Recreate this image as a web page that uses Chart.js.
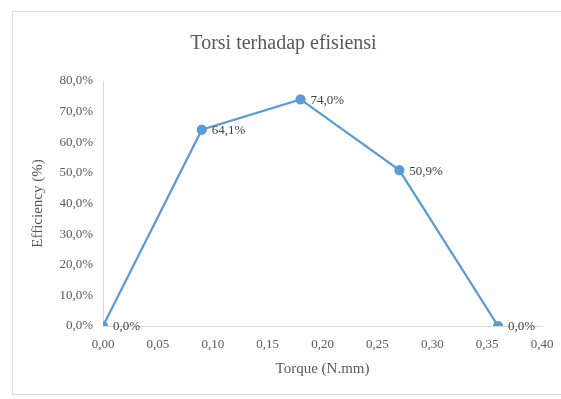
<!DOCTYPE html>
<html>
<head>
<meta charset="utf-8">
<script src="https://cdn.jsdelivr.net/npm/chart.js@4/dist/chart.umd.min.js"></script>
<style>
    body { margin: 0; background: #fff; overflow: hidden; }
    #divChart { position: absolute; left: 12px; top: 11px; width: 560px; height: 384px; border: 1px solid #d9d9d9; box-sizing: border-box; }
</style>
</head>
<body>
<div id="divChart"><canvas id="chartTorsi"></canvas></div>
<script>
// torque (N.mm) vs efficiency
var torque = [0.00, 0.09, 0.18, 0.27, 0.36];
var efficiency = [0.000, 0.641, 0.740, 0.509, 0.000];

function fmtComma(v, digits) {
    return v.toFixed(digits).replace('.', ',');
}

// draw "64,1%" labels to the right of the points
var pointLabels = {
    id: 'pointLabels',
    afterDatasetsDraw: function(chart) {
        var ctx = chart.ctx;
        var meta = chart.getDatasetMeta(0);
        ctx.save();
        ctx.font = '13px "Liberation Serif"';
        ctx.fillStyle = '#404040';
        ctx.textBaseline = 'middle';
        ctx.textAlign = 'left';
        meta.data.forEach(function(pt, i) {
            ctx.fillText(fmtComma(efficiency[i] * 100, 1) + '%', pt.x + 10, pt.y + 1);
        });
        ctx.restore();
    }
};

var points = torque.map(function(t, i) { return { x: t, y: efficiency[i] }; });

var ctx = document.getElementById('chartTorsi');
var myChart = new Chart(ctx, {
    type: 'line',
    data: {
        datasets: [{
            data: points,
            borderColor: '#5b9bd5',
            backgroundColor: '#5b9bd5',
            borderWidth: 2.25,
            pointRadius: 4,
            pointHoverRadius: 4,
            fill: false,
            tension: 0
        }]
    },
    options: {
        responsive: true,
        maintainAspectRatio: false,
        animation: false,
        layout: { padding: { left: 12, right: 29, top: 8, bottom: 12 } },
        plugins: {
            legend: { display: false },
            tooltip: { enabled: false },
            title: {
                display: true,
                text: 'Torsi terhadap efisiensi',
                color: '#595959',
                font: { family: 'Liberation Serif', size: 20, weight: 'normal' },
                padding: { top: 12, bottom: 25 }
            }
        },
        scales: {
            x: {
                type: 'linear',
                min: 0,
                max: 0.4,
                afterFit: function(scale) { scale.height = 56; },
                ticks: {
                    stepSize: 0.05,
                    color: '#595959',
                    padding: 11,
                    font: { family: 'Liberation Serif', size: 13 },
                    callback: function(v) { return fmtComma(v, 2); }
                },
                grid: { display: false, drawTicks: false },
                border: { color: '#d9d9d9' },
                title: {
                    display: true,
                    text: 'Torque (N.mm)',
                    color: '#595959',
                    padding: { top: 4, bottom: 4 },
                    font: { family: 'Liberation Serif', size: 15 }
                }
            },
            y: {
                min: 0,
                max: 0.8,
                afterFit: function(scale) { scale.width = 78; },
                ticks: {
                    stepSize: 0.1,
                    color: '#595959',
                    padding: 10,
                    font: { family: 'Liberation Serif', size: 13 },
                    callback: function(v) { return fmtComma(v * 100, 1) + '%'; }
                },
                grid: { display: false, drawTicks: false },
                border: { color: '#d9d9d9' },
                title: {
                    display: true,
                    text: 'Efficiency (%)',
                    color: '#595959',
                    font: { family: 'Liberation Serif', size: 15 }
                }
            }
        }
    },
    plugins: [pointLabels]
});
</script>
</body>
</html>
